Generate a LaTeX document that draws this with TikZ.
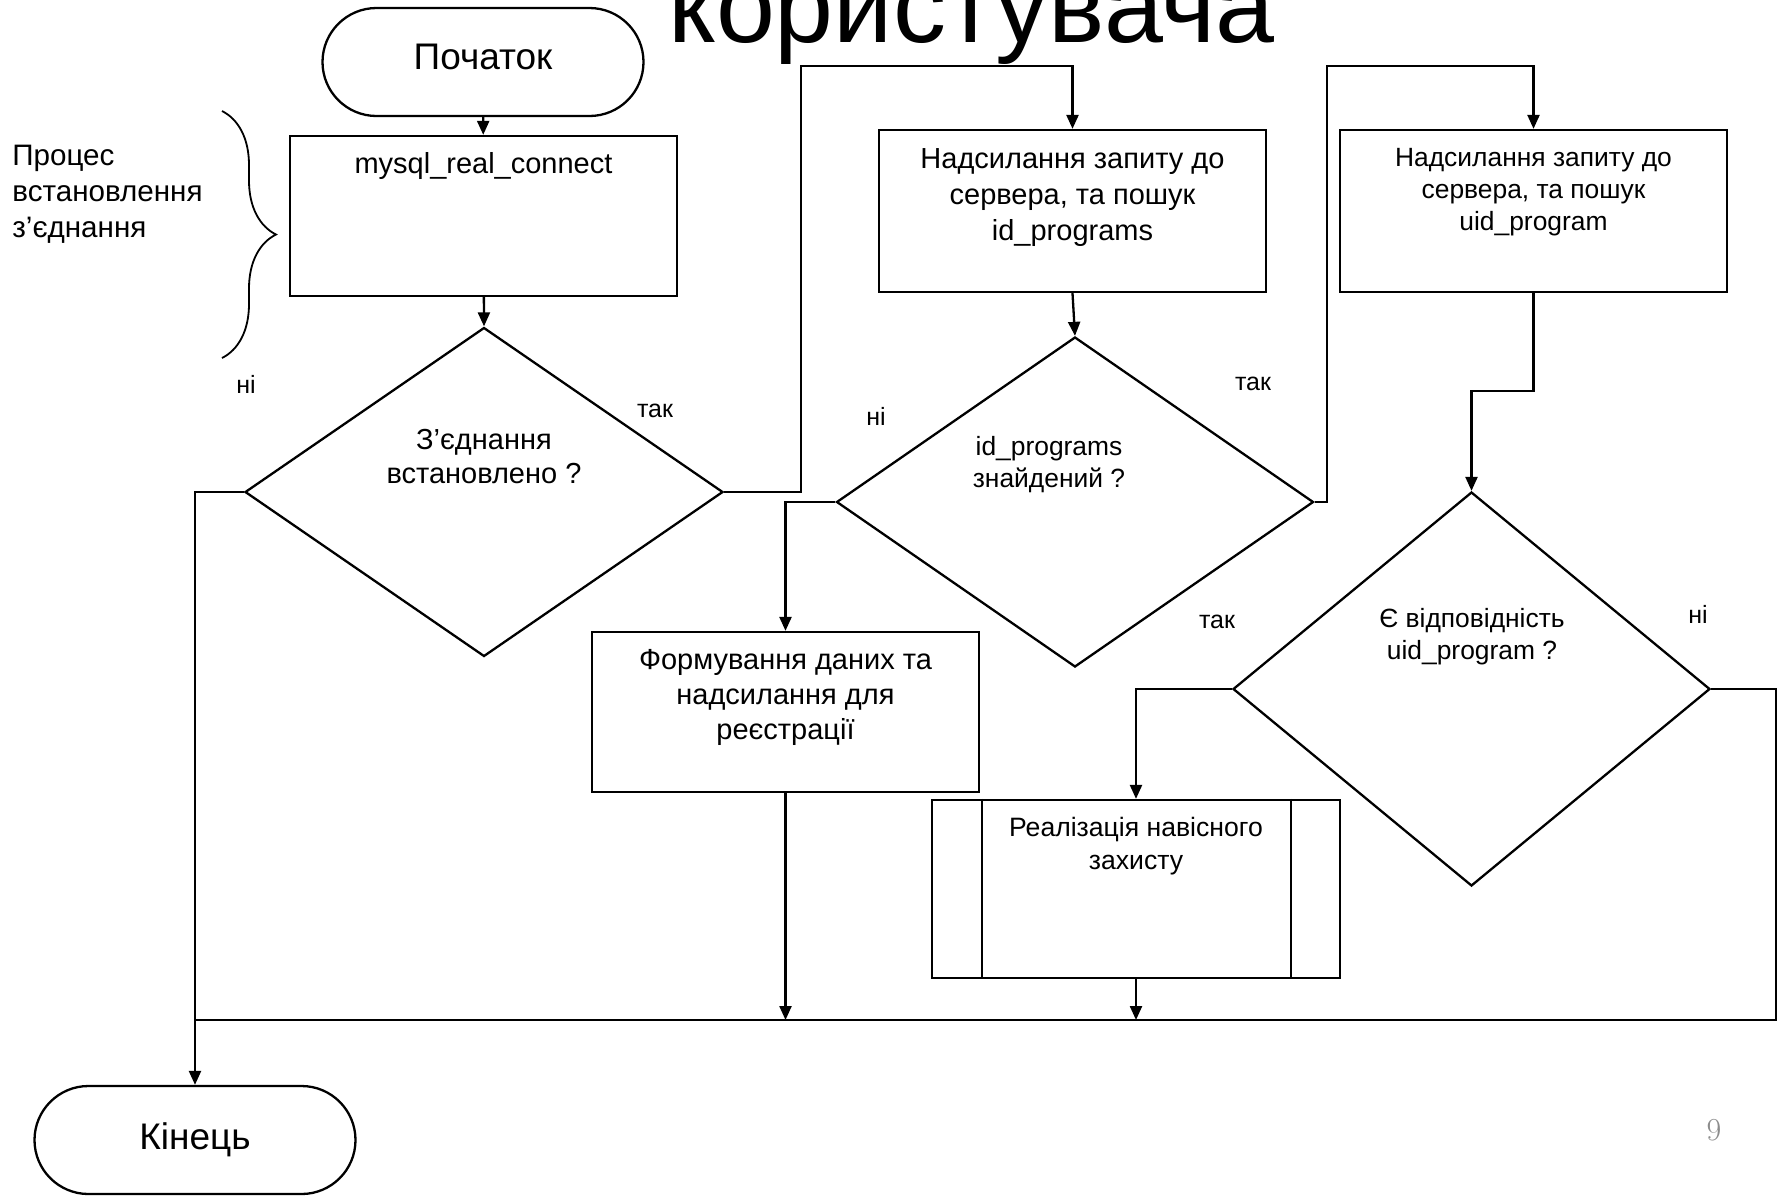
\documentclass[tikz,border=0pt]{standalone}
\usepackage{fontspec}
\setsansfont{Liberation Sans}
\usetikzlibrary{shapes.geometric,arrows.meta,decorations.pathreplacing,calc}
\begin{document}
\begin{tikzpicture}[x=0.5pt,y=-0.5pt,
  every node/.style={font=\sffamily},
  ln/.style={line width=1.15pt},
  arr/.style={line width=1.15pt,-{Triangle[length=7pt,width=6pt]}},
  proc/.style={draw,line width=1.15pt,minimum width=193.5pt,minimum height=80pt,inner sep=0pt},
  dec/.style={draw,diamond,line width=1.15pt,inner sep=0pt},
  term/.style={draw,line width=1.15pt,rounded corners=27pt,minimum width=160.5pt,minimum height=54pt,inner sep=0pt},
  ttxt/.style={inner sep=0pt,font=\sffamily\fontsize{18.5pt}{22pt}\selectfont},
  txt/.style={inner sep=0pt,align=center,anchor=base},
  big/.style={font=\sffamily\fontsize{14.5pt}{18pt}\selectfont},
  small/.style={font=\sffamily\fontsize{13.2pt}{16pt}\selectfont},
  lab/.style={inner sep=0pt,font=\sffamily\fontsize{12.5pt}{15pt}\selectfont}
]
\clip (0,0) rectangle (1779,1196);
\fill[white] (0,0) rectangle (1779,1196);

% title (partly cut off at the top)
\node[inner sep=0pt,anchor=base west,font=\sffamily\fontsize{53pt}{60pt}\selectfont] (title) at (668,42) {користувача};

% terminals
\node[term] (start) at (483,62) {};
\node[ttxt] (tstart) at (483,57) {Початок};
\node[term] (kin) at (195,1140) {};
\node[ttxt] (tkin) at (195,1140) {Кінець};

% process boxes (text nodes anchored at the baseline of their last line)
\node[proc,minimum height=80pt] (b1) at (483.5,216) {};
\node[txt,big] (t1) at (483.5,173) {mysql\_real\_connect};

\node[proc,minimum height=81pt] (b2) at (1072.5,211) {};
\node[txt,big] (t2) at (1072.5,240) {Надсилання запиту до\\сервера, та пошук\\id\_programs};

\node[proc,minimum height=81pt] (b4) at (1533.5,211) {};
\node[txt,small] (t4) at (1533.5,230) {Надсилання запиту до\\сервера, та пошук\\uid\_program};

\node[proc,minimum height=80pt] (b3) at (785.5,712) {};
\node[txt,font=\sffamily\fontsize{14.5pt}{17.5pt}\selectfont] (t3) at (785.5,739) {Формування даних та\\надсилання для\\реєстрації};

\node[proc,minimum width=204pt,minimum height=89pt] (b5) at (1136,889) {};
\draw[ln] ([xshift=25.5pt]b5.north west) -- ([xshift=25.5pt]b5.south west);
\draw[ln] ([xshift=-25pt]b5.north east) -- ([xshift=-25pt]b5.south east);
\node[txt,font=\sffamily\fontsize{13.3pt}{16.5pt}\selectfont] (t5) at (1136,869) {Реалізація навісного\\захисту};

% decisions
\node[dec,minimum width=239pt,minimum height=164.5pt] (d1) at (484,492) {};
\node[txt,font=\sffamily\fontsize{14.5pt}{17pt}\selectfont] (td1) at (484,483) {З’єднання\\встановлено ?};

\node[dec,minimum width=238.5pt,minimum height=165pt] (d2) at (1075,502) {};
\node[txt,small] (td2) at (1049,487) {id\_programs\\знайдений ?};

\node[dec,minimum width=238.5pt,minimum height=197pt] (d3) at (1471.5,689) {};
\node[txt,small] (td3) at (1472,659) {Є відповідність\\uid\_program ?};

% branch labels
\node[lab] (l1) at (246,384) {ні};
\node[lab] (l2) at (655,411) {так};
\node[lab] (l3) at (876,416) {ні};
\node[lab] (l4) at (1253,384) {так};
\node[lab] (l5) at (1217,622) {так};
\node[lab] (l6) at (1698,614) {ні};

% brace annotation
\coordinate (br1) at (222,111);
\coordinate (br2) at (222,358);
\draw[line width=0.9pt,decorate,decoration={brace,amplitude=27pt}] (br1) -- (br2);
\node[inner sep=0pt,anchor=base west,align=left,font=\sffamily\fontsize{14.8pt}{18pt}\selectfont] (ann) at (12,237) {Процес\\встановлення\\з’єднання};

% helper coordinates
\coordinate (c1) at (801,66);
\coordinate (c2) at (1327,66);
\coordinate (c3) at (1533.5,391);
\coordinate (c4) at (1776,1020);
\coordinate (c5) at (195,1020);

% connectors
\draw[arr] (start) -- (b1);
\draw[arr] (b1) -- (d1.north);
\draw[arr] (d1.west) -| (kin.north);
\draw[arr] (d1.east) -| (c1) -| (b2.north);
\draw[arr] (b2.south) -- (d2.north);
\draw[arr] (d2.west) -| (b3.north);
\draw[arr] (b3.south) -- (b3.south |- c5);
\draw[arr] (d2.east) -| (c2) -| (b4.north);
\draw[arr] (b4.south) -- (c3) -| (d3.north);
\draw[arr] (d3.west) -| (b5.north);
\draw[arr] (b5.south) -- (b5.south |- c5);
\draw[ln] (d3.east) -| (c4) -- (c5);

% page number
\node[inner sep=0pt,text=black!45,font=\rmfamily\fontsize{16pt}{18pt}\selectfont] (pg) at (1714,1130) {9};
\end{tikzpicture}
\end{document}
